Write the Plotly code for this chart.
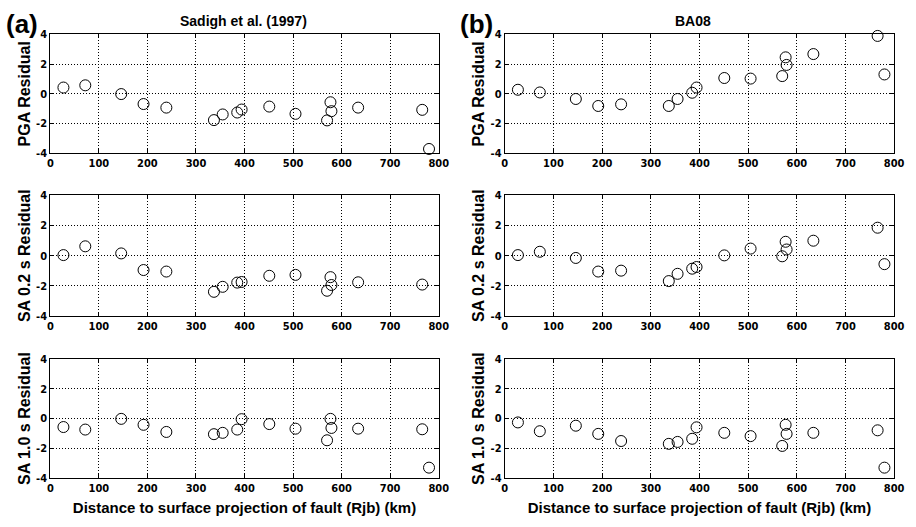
import plotly.graph_objects as go

# ---- data ----
distance_km = [27, 72, 146, 192, 239, 337, 355, 385, 394, 451, 505, 570, 577, 579, 634, 766, 780]

sadigh_pga = [0.42, 0.57, -0.02, -0.69, -0.93, -1.77, -1.39, -1.26, -1.06, -0.86, -1.35, -1.79, -0.57, -1.17, -0.93, -1.08, -3.71]
ba08_pga = [0.27, 0.09, -0.35, -0.82, -0.71, -0.82, -0.35, 0.07, 0.42, 1.06, 1.02, 1.19, 2.45, 1.94, 2.67, 3.89, 1.30]
sadigh_sa02 = [0.04, 0.62, 0.15, -0.95, -1.05, -2.39, -2.06, -1.78, -1.74, -1.33, -1.27, -2.32, -1.42, -1.94, -1.76, -1.91, None]
ba08_sa02 = [0.04, 0.26, -0.15, -1.05, -0.99, -1.68, -1.20, -0.86, -0.75, 0.02, 0.47, -0.04, 0.92, 0.41, 0.99, 1.85, -0.56]
sadigh_sa10 = [-0.57, -0.74, -0.02, -0.42, -0.90, -1.05, -0.96, -0.74, -0.04, -0.37, -0.68, -1.46, -0.02, -0.63, -0.68, -0.72, -3.30]
ba08_sa10 = [-0.26, -0.85, -0.48, -1.03, -1.51, -1.70, -1.57, -1.36, -0.59, -0.96, -1.18, -1.84, -0.42, -1.03, -0.96, -0.79, -3.30]

x_ticks = [0, 100, 200, 300, 400, 500, 600, 700, 800]
y_ticks = [-4, -2, 0, 2, 4]
row_labels = ["PGA Residual", "SA 0.2 s Residual", "SA 1.0 s Residual"]
col_titles = ["Sadigh et al. (1997)", "BA08"]
panel_tags = ["(a)", "(b)"]
x_title = "Distance to surface projection of fault (Rjb) (km)"

panels = [
    [sadigh_pga, ba08_pga],
    [sadigh_sa02, ba08_sa02],
    [sadigh_sa10, ba08_sa10],
]

W, H = 916, 527
col_px = [(48, 442), (509, 904)]
row_px = [(29, 151), (194, 318), (362, 484)]
title_cx = [244, 700]

NARROW = "Liberation Sans Narrow, Arial Narrow, DejaVu Sans Condensed, sans-serif"
SANS = "Liberation Sans, Arial, sans-serif"

fig = go.Figure()
layout = dict(
    width=W, height=H,
    margin=dict(l=0, r=0, t=0, b=0),
    paper_bgcolor="white", plot_bgcolor="white",
    showlegend=False,
    annotations=[],
)

k = 0
for r in range(3):
    for c in range(2):
        k += 1
        xa = "x" if k == 1 else f"x{k}"
        ya = "y" if k == 1 else f"y{k}"
        fig.add_trace(go.Scatter(
            x=distance_km, y=panels[r][c], mode="markers",
            xaxis=xa, yaxis=ya, cliponaxis=False,
            marker=dict(symbol="circle-open", size=11, color="black", line=dict(width=1, color="black")),
        ))
        x0, x1 = col_px[c]
        y0, y1 = row_px[r]
        common = dict(
            showline=True, linecolor="black", linewidth=1, mirror="allticks",
            ticks="inside", ticklen=4, tickcolor="black", tickwidth=1,
            showgrid=True, gridcolor="black", gridwidth=1, griddash="1px,2px",
            zeroline=False,
            tickfont=dict(family=NARROW, size=11, color="black", weight="bold"),
        )
        xax = dict(common, domain=[x0 / W, x1 / W], range=[0, 800], tickvals=x_ticks,
                   ticktext=[str(v) for v in x_ticks], anchor=ya)
        yax = dict(common, domain=[1 - y1 / H, 1 - y0 / H], range=[-4, 4], tickvals=y_ticks,
                   ticktext=[str(v) for v in y_ticks], anchor=xa,
                   title=dict(text=row_labels[r], standoff=1,
                              font=dict(family=SANS, size=16, color="black", weight="bold")))
        if r == 2:
            xax["title"] = dict(text=x_title, standoff=8,
                                font=dict(family=SANS, size=15, color="black", weight="bold"))
        layout["xaxis" if k == 1 else f"xaxis{k}"] = xax
        layout["yaxis" if k == 1 else f"yaxis{k}"] = yax

for c in range(2):
    x0, x1 = col_px[c]
    layout["annotations"].append(dict(
        text=col_titles[c], x=title_cx[c] / W, y=1 - 15 / H, xref="paper", yref="paper",
        showarrow=False, xanchor="center", yanchor="middle",
        font=dict(family=SANS, size=14, color="black", weight="bold")))
    layout["annotations"].append(dict(
        text=panel_tags[c], x=(x0 - 47) / W, y=1 - 18 / H, xref="paper", yref="paper",
        showarrow=False, xanchor="left", yanchor="middle",
        font=dict(family=SANS, size=26, color="black", weight="bold")))

fig.update_layout(**layout)
fig.write_html("out.html", config={"displayModeBar": False},
               post_script="document.body.style.margin='0';")
